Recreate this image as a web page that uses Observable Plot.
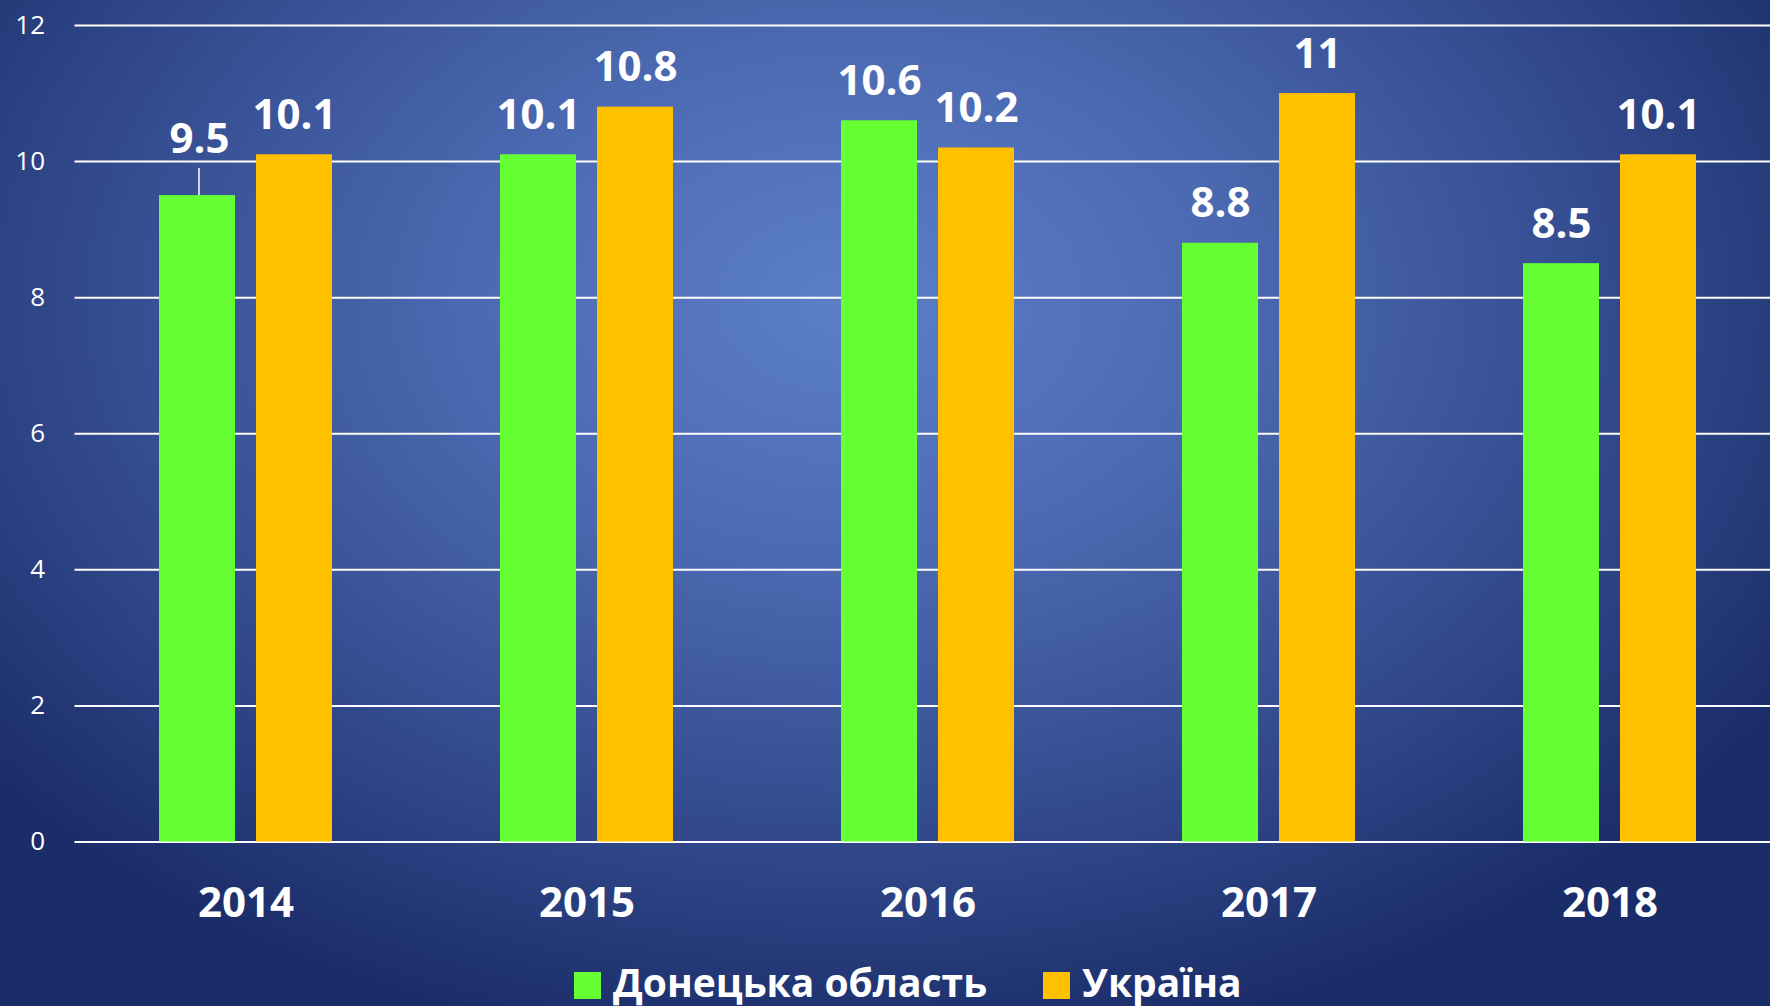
<!DOCTYPE html>
<html>
<head>
<meta charset="utf-8">
<script src="https://cdn.jsdelivr.net/npm/d3@7"></script>
<script src="https://cdn.jsdelivr.net/npm/@observablehq/plot@0.6"></script>
<style>
  html, body { margin: 0; padding: 0; }
  body {
    width: 1770px; height: 1006px; overflow: hidden; position: relative;
    background: radial-gradient(ellipse 62% 75% at 48% 30%, #5c7fc8 0%, #4b69b1 35%, #364f93 65%, #1b2d69 100%);
    font-family: "Open Sans", sans-serif;
  }
  #chart { position: absolute; left: 0; top: 0; }
  #chart svg { overflow: visible; }
  #legend {
    position: absolute; left: 574px; top: 962px;
    display: flex; align-items: center;
    font-size: 39px; line-height: 40px; font-weight: bold; color: white;
    white-space: nowrap;
  }
  #legend .item { display: flex; align-items: center; }
  #legend .sw { width: 27px; height: 27px; margin-top: 6px; margin-right: 12px; }
  #legend .item + .item { margin-left: 56px; }
</style>
</head>
<body>
<div id="chart"></div>
<div id="legend"></div>
<script>
const years = ["2014", "2015", "2016", "2017", "2018"];
const donetsk = [9.5, 10.1, 10.6, 8.8, 8.5];
const ukraine = [10.1, 10.8, 10.2, 11, 10.1];
const yTicks = [0, 2, 4, 6, 8, 10, 12];
const seriesNames = ["Донецька область", "Україна"];
const seriesColors = ["#66ff33", "#ffc000"];

const dRows = years.map((year, i) => ({year, value: donetsk[i]}));
const uRows = years.map((year, i) => ({year, value: ukraine[i]}));

const labelStyle = {fontSize: 42, fontWeight: "bold", fill: "white", lineAnchor: "bottom"};

const chart = Plot.plot({
  width: 1770,
  height: 950,
  marginLeft: 74.5,
  marginRight: 0,
  marginTop: 25,
  marginBottom: 108.5,
  style: {background: "transparent", color: "white", fontFamily: "'Open Sans', sans-serif", overflow: "visible"},
  x: {domain: years, range: [74.5, 1780], padding: 0, label: null},
  y: {domain: [0, 12], label: null},
  marks: [
    Plot.ruleY(yTicks, {stroke: "white", strokeWidth: 2}),
    Plot.barY(dRows, {x: "year", y: "value", fill: seriesColors[0], insetLeft: 84, insetRight: 181}),
    Plot.barY(uRows, {x: "year", y: "value", fill: seriesColors[1], insetLeft: 181, insetRight: 84}),
    Plot.axisY({ticks: yTicks, tickSize: 0, tickPadding: 30, fontSize: 26, fill: "white"}),
    Plot.axisX({tickSize: 0, tickPadding: 45, fontSize: 42, fontWeight: "bold", fill: "white"}),
    Plot.text(dRows, {x: "year", y: "value", text: d => String(d.value), dx: -48.5, dy: -26, filter: (d, i) => i !== 0, ...labelStyle}),
    Plot.text(dRows, {x: "year", y: "value", text: d => String(d.value), dx: -46.5, dy: -43, filter: (d, i) => i === 0, ...labelStyle}),
    Plot.ruleX(dRows, {x: "year", y1: "value", y2: d => d.value + 0.4, dx: -47, filter: (d, i) => i === 0, stroke: "white", strokeWidth: 1.5}),
    Plot.text(uRows, {x: "year", y: "value", text: d => String(d.value), dx: 48.5, dy: -26, ...labelStyle})
  ]
});
document.getElementById("chart").appendChild(chart);

const legend = document.getElementById("legend");
seriesNames.forEach((name, i) => {
  const item = document.createElement("div");
  item.className = "item";
  const sw = document.createElement("div");
  sw.className = "sw";
  sw.style.background = seriesColors[i];
  const label = document.createElement("span");
  label.textContent = name;
  item.appendChild(sw);
  item.appendChild(label);
  legend.appendChild(item);
});
</script>
</body>
</html>
